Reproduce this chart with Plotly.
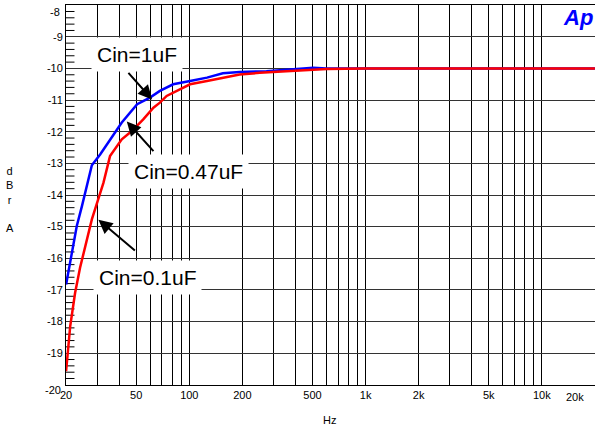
import math
import plotly.graph_objects as go

# Cin = 1uF (blue)
freq_blue = [20, 21.5, 23.0, 24.6, 28.0, 31.2, 35.5, 41.4, 50.6, 59.8, 68.1, 81, 101, 126, 155, 193, 274, 400, 505, 600, 1000, 2000, 5000, 10000, 20000]
db_blue = [-16.83, -15.83, -14.98, -14.35, -13.06, -12.72, -12.24, -11.71, -11.13, -10.92, -10.71, -10.50, -10.40, -10.29, -10.15, -10.11, -10.09, -10.02, -9.98, -10.0, -10.0, -10.0, -10.0, -10.0, -10.0]

# Cin = 0.47uF (red)
freq_red = [20, 21.1, 22.5, 24.0, 28.0, 29.9, 32.6, 35.5, 41.4, 47.2, 54.8, 62.6, 68.1, 74.4, 84.6, 101, 126, 155, 193, 251, 298, 372, 505, 600, 1000, 2000, 5000, 10000, 20000]
db_red = [-19.57, -18.15, -17.09, -16.3, -14.77, -14.24, -13.61, -12.77, -12.24, -11.98, -11.61, -11.24, -11.08, -10.87, -10.72, -10.50, -10.40, -10.29, -10.19, -10.14, -10.12, -10.08, -10.05, -10.02, -10.0, -10.0, -10.0, -10.0, -10.0]

x_grid = [20, 30, 40, 50, 60, 70, 80, 90, 100, 200, 300, 400, 500, 600, 700, 800, 900,
          1000, 2000, 3000, 4000, 5000, 6000, 7000, 8000, 9000, 10000, 20000]
# labels drawn by the axis (edge labels are placed separately below)
x_labels = {20: "20", 50: "50", 100: "100", 200: "200", 500: "500", 1000: "1k",
            2000: "2k", 5000: "5k", 10000: "10k"}
y_ticks = [-8, -9, -10, -11, -12, -13, -14, -15, -16, -17, -18, -19, -20]
y_minor = [round(-20 + 0.2 * i, 1) for i in range(61) if i % 5 != 0]
F_MIN, F_MAX = 20, 20000

# edge tick labels nudged inward like the reference: (text, paper x, paper y)
edge_labels = [
    ("20k", 0.983, -0.0316),
    ("-8", -0.007, 0.982),
    ("-20", -0.006, -0.013),
]

labels = [
    ("Cin=1uF", 0.1333, 0.871),
    ("Cin=0.47uF", 0.2325, 0.563),
    ("Cin=0.1uF", 0.155, 0.2816),
]
# arrow head (freq, dB) and tail offset in px
arrows = [
    (61.5, -10.98, -25, -28),
    (44.2, -11.68, 28, 31),
    (30.5, -14.78, 38, 32),
]

FONT = "Liberation Sans, Arial, sans-serif"

fig = go.Figure()
# small inside tick marks on the left axis (half of each dash is clipped by the plot edge)
fig.add_trace(go.Scatter(x=[F_MIN] * len(y_minor), y=y_minor, mode="markers",
                         marker=dict(symbol="line-ew", size=12,
                                     line=dict(color="black", width=1)),
                         hoverinfo="skip", showlegend=False, cliponaxis=True))
fig.add_trace(go.Scatter(x=freq_blue, y=db_blue, mode="lines",
                         line=dict(color="#0000ff", width=2.5), showlegend=False))
fig.add_trace(go.Scatter(x=freq_red, y=db_red, mode="lines",
                         line=dict(color="#ff0000", width=2.5), showlegend=False))

for text, px, py in labels:
    fig.add_annotation(text=text, xref="paper", yref="paper", x=px, y=py,
                       xanchor="center", yanchor="middle",
                       showarrow=False, bgcolor="white", borderpad=5,
                       font=dict(family=FONT, size=21, color="black"))

for fx, fy, ax, ay in arrows:
    fig.add_annotation(text="", xref="x", yref="y", x=math.log10(fx), y=fy,
                       ax=ax, ay=ay, showarrow=True, arrowhead=2, arrowsize=1.4,
                       arrowwidth=2, arrowcolor="black")

for text, px, py in edge_labels:
    fig.add_annotation(text=text, xref="paper", yref="paper", x=px, y=py,
                       xanchor="right", yanchor="middle", showarrow=False,
                       font=dict(family=FONT, size=11, color="black"))

fig.add_annotation(text="d<br>B<br>r<br><br>A", xref="paper", yref="paper",
                   x=-0.106, y=0.489, xanchor="center", yanchor="middle", showarrow=False,
                   font=dict(family=FONT, size=11, color="black"))
fig.add_annotation(text="Hz", xref="paper", yref="paper", x=0.499, y=-0.092,
                   xanchor="center", yanchor="middle",
                   showarrow=False, font=dict(family=FONT, size=11, color="black"))
fig.add_annotation(text="<b><i>Ap</i></b>", xref="paper", yref="paper", x=0.968, y=0.968,
                   xanchor="center", yanchor="middle",
                   showarrow=False, font=dict(family=FONT, size=22, color="#0000ff"))

fig.update_layout(
    width=595, height=432, margin=dict(l=66, r=0, t=5, b=47),
    plot_bgcolor="white", paper_bgcolor="white",
    xaxis=dict(type="log", range=[math.log10(F_MIN) - 0.0005, math.log10(F_MAX) + 0.0005],
               tickmode="array", tickvals=x_grid,
               ticktext=[x_labels.get(v, "") for v in x_grid],
               showgrid=True, gridcolor="black", gridwidth=1,
               showline=True, linecolor="black", linewidth=1, mirror=True,
               ticks="", zeroline=False, automargin=False, ticklabeloverflow="allow",
               tickfont=dict(family=FONT, size=11, color="black")),
    yaxis=dict(range=[-20.005, -7.995], tickmode="array", tickvals=y_ticks,
               ticktext=["" if v in (-8, -20) else str(v) for v in y_ticks],
               showgrid=True, gridcolor="#333333", gridwidth=1,
               showline=True, linecolor="black", linewidth=1, mirror=True,
               ticks="", zeroline=False, automargin=False, ticklabeloverflow="allow",
               tickfont=dict(family=FONT, size=11, color="black")),
)

fig.write_html("out.html", config={"displayModeBar": False},
               post_script="document.body.style.margin='0';")
